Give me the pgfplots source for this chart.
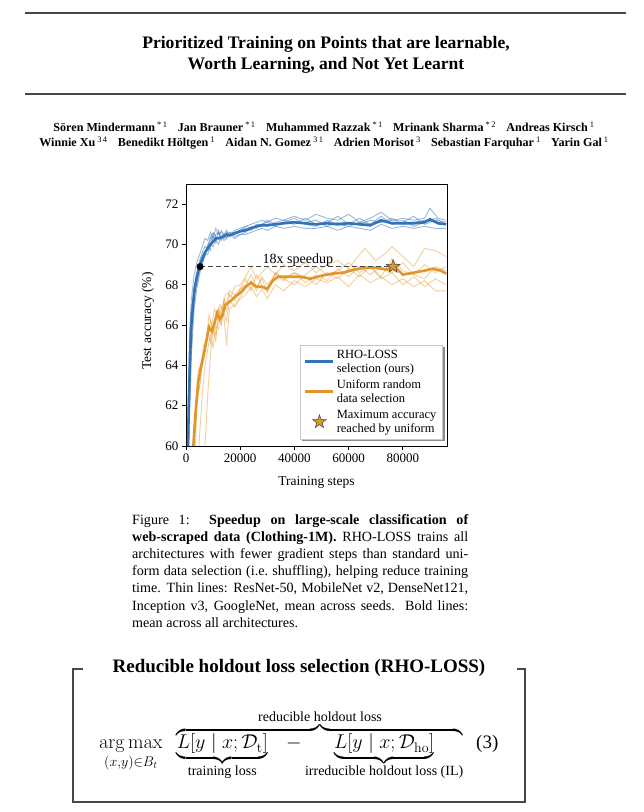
\documentclass[border=0pt]{standalone}
\usepackage{fix-cm}
\usepackage{amsmath}
\usepackage[no-math]{fontspec}
\setmainfont{Liberation Serif}
\usepackage{pgfplots}
\pgfplotsset{compat=1.18}

\definecolor{rhoblue}{RGB}{52,114,183}
\definecolor{uniorange}{RGB}{226,150,42}
\definecolor{rulegray}{RGB}{72,72,72}

\pgfdeclarelayer{background}
\pgfsetlayers{background,main}

\newcommand{\aff}[1]{\textsuperscript{\mdseries #1}}
\newcommand{\gap}{\hspace{0.85em}}

% five pointed star, like matplotlib's '*'
\pgfdeclareplotmark{fstar}{%
  \pgfpathmoveto{\pgfpointpolar{90}{\pgfplotmarksize}}%
  \pgfpathlineto{\pgfpointpolar{126}{0.4\pgfplotmarksize}}%
  \pgfpathlineto{\pgfpointpolar{162}{\pgfplotmarksize}}%
  \pgfpathlineto{\pgfpointpolar{198}{0.4\pgfplotmarksize}}%
  \pgfpathlineto{\pgfpointpolar{234}{\pgfplotmarksize}}%
  \pgfpathlineto{\pgfpointpolar{270}{0.4\pgfplotmarksize}}%
  \pgfpathlineto{\pgfpointpolar{306}{\pgfplotmarksize}}%
  \pgfpathlineto{\pgfpointpolar{342}{0.4\pgfplotmarksize}}%
  \pgfpathlineto{\pgfpointpolar{18}{\pgfplotmarksize}}%
  \pgfpathlineto{\pgfpointpolar{54}{0.4\pgfplotmarksize}}%
  \pgfpathclose
  \pgfusepathqfillstroke
}
\pgfplotsset{
  line legend28/.style={legend image code/.code={\draw[mark repeat=2,mark phase=2,##1] (0pt,0pt) -- (14pt,0pt) -- (28pt,0pt);}},
  mark legend28/.style={legend image code/.code={\draw[##1] plot coordinates {(14pt,0pt)};}},
}

\begin{document}
\begin{tikzpicture}[x=1pt,y=1pt]
\path (0,0) rectangle (644,812);
\coordinate (axpos) at (186,366);

% title block
\draw[rulegray, line width=1.3pt] (25,799) -- (626,799);
\draw[rulegray, line width=1.3pt] (25,718) -- (626,718);
\node[font=\fontsize{17.6}{21}\selectfont\bfseries, anchor=base, inner sep=0pt] at (326,763) {Prioritized Training on Points that are learnable,};
\node[font=\fontsize{17.6}{21}\selectfont\bfseries, anchor=base, inner sep=0pt] at (326,742) {Worth Learning, and Not Yet Learnt};

\node[font=\fontsize{12.1}{15}\selectfont\bfseries, anchor=base, inner sep=0pt] at (324,680)
  {Sören Mindermann\,\aff{*\,1}\gap Jan Brauner\,\aff{*\,1}\gap Muhammed Razzak\,\aff{*\,1}\gap Mrinank Sharma\,\aff{*\,2}\gap Andreas Kirsch\,\aff{1}};
\node[font=\fontsize{12.1}{15}\selectfont\bfseries, anchor=base, inner sep=0pt] at (324,665)
  {Winnie Xu\,\aff{3\,4}\gap Benedikt Höltgen\,\aff{1}\gap Aidan N. Gomez\,\aff{3\,1}\gap Adrien Morisot\,\aff{3}\gap Sebastian Farquhar\,\aff{1}\gap Yarin Gal\,\aff{1}};

% caption
\node[anchor=north west, inner sep=0pt, text width=336pt, align=justify, font=\fontsize{14.1}{17.2}\selectfont] at (132,298)
  {Figure 1:\ \ \textbf{Speedup on large-scale classification of\linebreak web-scraped data (Clothing-1M).} RHO-LOSS trains all\linebreak architectures with fewer gradient steps than standard uni-\linebreak form data selection (i.e.\ shuffling), helping reduce training\linebreak time. Thin lines: ResNet-50, MobileNet v2, DenseNet121,\linebreak Inception v3, GoogleNet, mean across seeds.\ \ Bold lines:\linebreak mean across all architectures.\par};

% RHO-LOSS box
\draw[rulegray, line width=1.3pt] (83,143) -- (73,143) -- (73,10) -- (525,10) -- (525,143) -- (517,143);
\node[font=\fontsize{19}{22}\selectfont\bfseries, anchor=base, inner sep=0pt] at (299,139) {Reducible holdout loss selection (RHO-LOSS)};
\node[anchor=base west, inner sep=0pt, font=\fontsize{20}{23}\selectfont] at (99,63)
  {$\displaystyle \operatorname*{arg\,max}_{(x,y)\in B_t}\hspace{11pt}
   \overbrace{\underbrace{L[y\mid x;\mathcal{D}_{\mathrm{t}}]}_{\text{training loss}}\hspace{15pt}-\underbrace{L[y\mid x;\mathcal{D}_{\mathrm{ho}}]}_{\text{irreducible holdout loss (IL)}}}^{\text{reducible holdout loss}}$};
\node[anchor=base west, inner sep=0pt, font=\fontsize{19}{22}\selectfont] at (476,63) {(3)};

% chart
\begin{axis}[
  at={(axpos)}, anchor=south west,
  width=261pt, height=262pt, scale only axis,
  xmin=0, xmax=96300, ymin=60, ymax=73,
  xtick={0,20000,40000,60000,80000},
  ytick={60,62,...,72},
  scaled x ticks=false,
  xticklabel style={/pgf/number format/1000 sep={}},
  /pgf/number format/assume math mode=true,
  tick label style={font=\fontsize{13}{15}\selectfont},
  label style={font=\fontsize{13.5}{15}\selectfont},
  xlabel={Training steps}, ylabel={Test accuracy (\%)},
  x label style={at={(axis description cs:0.5,-0.141)}, anchor=center},
  y label style={at={(axis description cs:-0.146,0.477)}, anchor=center},
  tick align=outside, xtick pos=left, ytick pos=left,
  major tick length=4pt,
  tick style={black, line width=0.8pt},
  axis line style={black, line width=0.9pt},
  line legend28,
  legend cell align=left,
  legend style={name=rholegend, at={(0.983,0.027)}, anchor=south east, draw=black!22, fill=white,
    font=\fontsize{12.5}{14}\selectfont, cells={align=left}, row sep=2pt,
    inner xsep=4pt, inner ysep=3pt},
]

% thin lines: RHO-LOSS per architecture
\addplot[rhoblue, opacity=0.5, line width=0.9pt, forget plot] coordinates {
(300,58)(800,62)(1300,65.5)(2000,67.3)(3000,68.5)(4000,69.1)(5000,69.5)(6000,69.9)(7000,70.3)(8000,70.2)(9000,70.6)(10000,70.3)(11000,70.8)(12000,70.5)(13000,70.6)(14000,70.3)(15000,70.6)(16000,70.4)(18000,70.7)(20000,70.8)(22000,70.9)(24000,71.0)(26000,71.1)(28000,71.2)(30000,71.1)(33000,71.3)(36000,71.2)(40000,71.4)(44000,71.2)(48000,71.5)(52000,71.3)(56000,71.2)(60000,71.5)(64000,71.1)(68000,71.3)(72000,71.6)(76000,71.2)(80000,71.3)(84000,71.2)(88000,71.3)(90000,71.8)(93000,71.3)(96000,71.2)};
\addplot[rhoblue, opacity=0.5, line width=0.9pt, forget plot] coordinates {
(600,58)(1200,61)(2000,64.5)(3000,66.8)(4000,67.8)(5000,68.5)(6000,69.1)(7000,69.4)(8000,69.9)(9000,69.7)(10000,70.5)(11000,70.1)(12000,70.7)(13000,70.2)(14000,70.5)(15000,70.3)(16000,70.6)(18000,70.4)(20000,70.5)(22000,70.6)(24000,70.9)(26000,70.8)(28000,71.0)(30000,71.1)(33000,70.9)(36000,71.1)(40000,71.0)(44000,71.3)(48000,71.0)(52000,71.1)(56000,71.4)(60000,71.0)(64000,71.3)(68000,71.0)(72000,71.4)(76000,71.0)(80000,71.1)(84000,71.4)(88000,71.0)(92000,71.2)(96000,71.1)};
\addplot[rhoblue, opacity=0.5, line width=0.9pt, forget plot] coordinates {
(400,58)(900,62.5)(1500,65)(2000,66.5)(3000,67.9)(4000,68.0)(5000,68.7)(6000,69.0)(7000,69.5)(8000,69.5)(9000,70.0)(10000,69.9)(11000,70.2)(12000,70.0)(13000,70.4)(14000,70.2)(15000,70.3)(16000,70.5)(18000,70.3)(20000,70.5)(22000,70.5)(24000,70.6)(26000,70.7)(28000,70.8)(30000,70.7)(33000,70.9)(36000,70.8)(40000,70.9)(44000,70.8)(48000,70.8)(52000,70.9)(56000,70.7)(60000,70.9)(64000,70.8)(68000,70.7)(72000,71.0)(76000,70.8)(80000,70.9)(84000,70.8)(88000,70.9)(92000,70.8)(96000,70.8)};
\addplot[rhoblue, opacity=0.5, line width=0.9pt, forget plot] coordinates {
(500,58)(1000,63)(1500,65.8)(2000,67)(3000,67.2)(4000,68.3)(5000,69.0)(6000,69.4)(7000,69.6)(8000,70.0)(9000,70.2)(10000,70.6)(11000,70.4)(12000,70.3)(13000,70.7)(14000,70.5)(15000,70.4)(16000,70.6)(18000,70.6)(20000,70.7)(22000,70.8)(24000,70.7)(26000,71.0)(28000,71.0)(30000,70.9)(33000,71.1)(36000,71.2)(40000,71.1)(44000,71.1)(48000,71.2)(52000,70.9)(56000,71.1)(60000,71.1)(64000,71.0)(68000,71.2)(72000,71.1)(76000,71.3)(80000,71.0)(84000,71.1)(88000,71.2)(92000,71.1)(96000,71.0)};
\addplot[rhoblue, opacity=0.5, line width=0.9pt, forget plot] coordinates {
(500,58)(1000,61.5)(1500,63.5)(2000,65.5)(3000,67.9)(4000,68.6)(5000,69.2)(6000,69.6)(7000,69.9)(8000,69.8)(9000,70.4)(10000,70.1)(11000,70.5)(12000,70.6)(13000,70.3)(14000,70.5)(15000,70.7)(16000,70.4)(18000,70.6)(20000,70.7)(22000,70.9)(24000,70.8)(26000,70.9)(28000,71.0)(30000,71.2)(33000,71.0)(36000,71.1)(40000,71.3)(44000,71.0)(48000,70.9)(52000,71.2)(56000,71.0)(60000,70.9)(64000,71.1)(68000,71.0)(72000,71.1)(76000,71.2)(80000,71.2)(84000,70.9)(88000,71.1)(92000,71.3)(96000,71.0)};

% thin lines: uniform per architecture
\addplot[uniorange, opacity=0.45, line width=0.9pt, forget plot] coordinates {
(2500,58)(3500,61.5)(4500,63.8)(5500,64.0)(6500,65.0)(7500,65.3)(8500,66.5)(9500,66.0)(10500,66.8)(11500,66.4)(12500,67.0)(13500,66.8)(14500,67.5)(15500,67.6)(16500,67.4)(18000,67.9)(20000,68.0)(22000,68.4)(24000,68.9)(26000,68.3)(28000,68.6)(30000,68.9)(33000,68.5)(36000,69.0)(40000,68.7)(44000,69.1)(48000,68.6)(52000,69.0)(56000,69.2)(60000,68.8)(64000,69.5)(66000,69.8)(70000,69.2)(74000,69.6)(76000,69.9)(80000,69.4)(84000,68.9)(88000,69.8)(92000,69.7)(96000,69.4)};
\addplot[uniorange, opacity=0.45, line width=0.9pt, forget plot] coordinates {
(3000,58)(4000,62)(5000,63)(6000,64.2)(7000,64.8)(8000,65.4)(9000,66.2)(10000,65.6)(11000,66.4)(12000,66.8)(13000,66.1)(14000,67.2)(15000,66.7)(16000,67.5)(18000,67.2)(20000,67.8)(22000,68.3)(24000,67.7)(26000,68.5)(28000,68.0)(30000,67.6)(33000,68.6)(36000,68.3)(40000,68.6)(44000,68.1)(48000,68.5)(52000,68.2)(56000,68.8)(60000,68.4)(64000,68.9)(68000,68.5)(72000,68.9)(76000,68.6)(80000,69.1)(84000,68.5)(88000,68.3)(92000,68.9)(96000,68.7)};
\addplot[uniorange, opacity=0.45, line width=0.9pt, forget plot] coordinates {
(2500,58)(3200,60.5)(4000,62.5)(5000,62.9)(6000,64.0)(7000,64.6)(8000,65.8)(9000,65.1)(10000,66.0)(11000,65.5)(12000,66.3)(13000,66.0)(14000,66.6)(15000,66.2)(16000,67.2)(18000,66.9)(20000,67.3)(22000,67.5)(24000,67.9)(26000,67.4)(28000,67.8)(30000,67.3)(33000,68.0)(36000,67.7)(40000,68.2)(44000,67.9)(48000,68.3)(52000,68.1)(56000,68.4)(60000,67.9)(64000,68.5)(68000,68.1)(72000,68.4)(76000,68.0)(80000,68.3)(84000,67.9)(88000,68.2)(92000,67.7)(96000,67.7)};
\addplot[uniorange, opacity=0.45, line width=0.9pt, forget plot] coordinates {
(4000,58)(5000,60.5)(6000,62.5)(7000,64.0)(8000,64.8)(9000,65.5)(10000,64.9)(11000,66.0)(12000,65.8)(13000,66.9)(14000,66.4)(15000,65.0)(16000,66.8)(18000,67.0)(20000,67.4)(22000,67.8)(24000,68.2)(26000,67.7)(28000,68.4)(30000,68.0)(33000,68.5)(36000,68.2)(40000,68.6)(44000,68.4)(48000,68.0)(52000,68.6)(56000,68.3)(60000,68.8)(64000,68.4)(68000,68.9)(72000,68.3)(76000,68.6)(80000,68.0)(84000,68.4)(88000,67.9)(92000,68.3)(96000,68.0)};
\addplot[uniorange, opacity=0.45, line width=0.9pt, forget plot] coordinates {
(6000,58)(7000,60)(8000,62.5)(9000,64.5)(10000,65.8)(11000,65.2)(12000,66.8)(13000,66.5)(14000,67.3)(15000,67.0)(16000,67.7)(18000,67.5)(20000,67.8)(22000,68.0)(24000,68.5)(26000,67.9)(28000,68.3)(30000,67.7)(33000,68.6)(36000,68.3)(40000,68.0)(44000,68.5)(48000,68.9)(52000,68.5)(56000,68.7)(60000,69.1)(64000,68.6)(68000,68.9)(72000,68.4)(76000,69.3)(80000,68.7)(84000,68.5)(88000,69.0)(92000,68.6)(96000,68.9)};

% bold lines: means across architectures
\addplot[rhoblue, line width=2.6pt] coordinates {
(500,58)(1000,61.8)(1500,64.4)(2000,66.0)(3000,67.6)(4000,68.4)(5000,68.9)(6000,69.3)(7000,69.6)(8000,69.8)(9000,70.0)(10000,70.15)(11000,70.3)(12000,70.3)(13000,70.35)(14000,70.4)(15000,70.5)(16000,70.45)(18000,70.55)(20000,70.65)(22000,70.7)(24000,70.8)(26000,70.9)(28000,70.95)(30000,70.95)(33000,71.0)(36000,71.05)(40000,71.1)(44000,71.05)(48000,71.0)(52000,71.05)(56000,71.0)(60000,71.05)(64000,71.0)(68000,70.95)(72000,71.2)(76000,71.05)(80000,71.05)(84000,71.05)(88000,71.1)(90000,71.25)(93000,71.05)(96000,71.0)};
\addlegendentry{RHO-LOSS\\selection (ours)}
\addplot[uniorange, line width=2.6pt] coordinates {
(2000,58)(2700,60)(3500,61.6)(4500,63.2)(5500,63.9)(6500,64.5)(7500,65.2)(8500,65.9)(9500,65.7)(10500,66.1)(11500,66.6)(12500,66.3)(13500,66.5)(14500,67.0)(15500,67.1)(16500,67.2)(18000,67.4)(20000,67.6)(22000,67.9)(24000,68.1)(26000,67.9)(28000,67.9)(30000,67.8)(32000,68.2)(34000,68.4)(38000,68.4)(42000,68.4)(46000,68.3)(50000,68.45)(54000,68.55)(58000,68.6)(62000,68.75)(66000,68.85)(70000,68.85)(74000,68.75)(77000,68.9)(80000,68.5)(84000,68.6)(88000,68.7)(91000,68.8)(94000,68.7)(96000,68.55)};
\addlegendentry{Uniform random\\data selection}

% speedup marker
\addplot[rulegray, line width=1.3pt, dash pattern=on 5pt off 3pt, forget plot] coordinates {(5200,68.9) (76400,68.9)};
\addplot[only marks, mark=*, mark size=3.3pt, black, forget plot] coordinates {(5200,68.9)};
\addplot[only marks, mark=fstar, mark size=7pt, mark options={fill=uniorange, draw=black!75, line width=0.5pt},
  mark legend28] coordinates {(76400,68.9)};
\addlegendentry{Maximum accuracy\\reached by uniform}

\node[anchor=base, font=\fontsize{14}{16}\selectfont] at (axis cs:41300,69.07) {18x speedup};
\end{axis}

% legend shadow, behind the legend box
\begin{pgfonlayer}{background}
\fill[black!45] ([xshift=2.5pt,yshift=-2.5pt]rholegend.south west) rectangle ([xshift=2.5pt,yshift=-2.5pt]rholegend.north east);
\end{pgfonlayer}
\end{tikzpicture}
\end{document}
